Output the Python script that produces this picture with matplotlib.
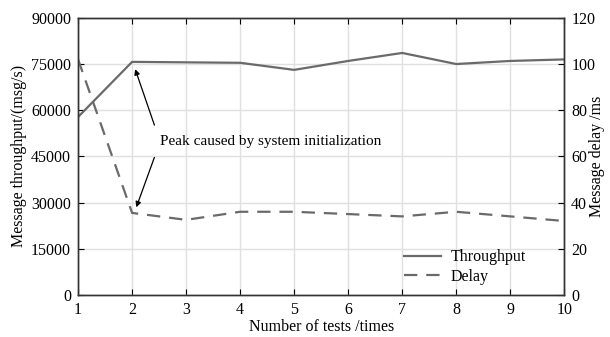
import numpy as np
import matplotlib.pyplot as plt

plt.rcParams['font.family'] = ['Liberation Serif', 'DejaVu Serif']
plt.rcParams['font.size'] = 11.5

tests = [1, 2, 3, 4, 5, 6, 7, 8, 9, 10]
throughput = [57800, 75700, 75550, 75400, 73100, 76000, 78600, 75000, 76000, 76500]
delay = [102, 35.5, 32.5, 36, 36, 35, 34, 36, 34, 32]

fig = plt.figure(figsize=(6.1, 3.37), dpi=100)
ax1 = fig.add_axes([0.128, 0.125, 0.797, 0.822])
ax2 = ax1.twinx()

line_col = '#6a6a6a'
l1, = ax1.plot(tests, throughput, color=line_col, lw=1.6, label='Throughput')
l2, = ax2.plot(tests, delay, color=line_col, lw=1.6, ls=(0, (6, 4)), label='Delay')

ax1.set_xlim(1, 10)
ax1.set_ylim(0, 90000)
ax1.set_xticks(tests)
ax1.set_yticks(np.arange(0, 90001, 15000))
ax2.set_ylim(0, 120)
ax2.set_yticks(np.arange(0, 121, 20))

ax1.grid(True, color='#e0e0e0', lw=1.0)
ax1.set_axisbelow(True)
ax1.tick_params(direction='in', top=True, length=4, pad=5)
ax2.tick_params(direction='in', length=4, pad=5)

ax1.set_xlabel('Number of tests /times', labelpad=1)
ax1.set_ylabel('Message throughput/(msg/s)', labelpad=3)
ax2.set_ylabel('Message delay /ms')
ax2.yaxis.set_label_coords(1.05, 0.5)

for a in (ax1, ax2):
    for s in a.spines.values():
        s.set_color('#333333')
        s.set_linewidth(1.0)

ax1.text(2.52, 49700, 'Peak caused by system initialization', va='center', ha='left',
         fontsize=11)
ax1.annotate('', xy=(2.04, 74200), xytext=(2.43, 54300),
             arrowprops=dict(arrowstyle='-|>', color='black', lw=0.9, mutation_scale=8))
ax1.annotate('', xy=(2.06, 27600), xytext=(2.43, 45500),
             arrowprops=dict(arrowstyle='-|>', color='black', lw=0.9, mutation_scale=8))

ax2.legend(handles=[l1, l2], loc='lower right', frameon=False,
           bbox_to_anchor=(0.95, -0.015), handlelength=2.3, labelspacing=0.2,
           handletextpad=0.6)

fig.savefig('out.png', dpi=100)
